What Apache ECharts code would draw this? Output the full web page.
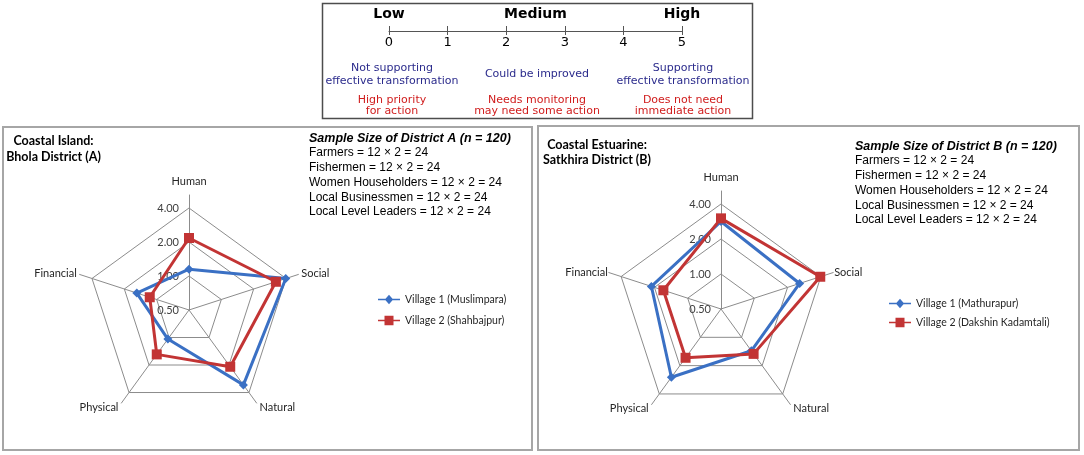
<!DOCTYPE html>
<html>
<head>
<meta charset="utf-8">
<script src="https://cdn.jsdelivr.net/npm/echarts@6/dist/echarts.min.js"></script>
<style>
html,body{margin:0;padding:0;background:#fff;}
#c{width:1084px;height:455px;}
</style>
</head>
<body>
<div id="c"></div>
<script>
// ---- data ----
const scaleTicks = [0, 1, 2, 3, 4, 5];
const scaleLevels = ['Low', 'Medium', 'High'];
const statusText = ['Not supporting\neffective transformation', 'Could be improved', 'Supporting\neffective transformation'];
const actionText = ['High priority\nfor action', 'Needs monitoring\nmay need some action', 'Does not need\nimmediate action'];

// indicators listed counter-clockwise starting at the top (ECharts order)
const capitals = ['Human', 'Financial', 'Physical', 'Natural', 'Social'];
const ringValues = [0.5, 1, 2, 4];

const titleA = 'Coastal Island:\nBhola District (A)';
const titleB = 'Coastal Estuarine:\nSatkhira District (B)';
const sampleHeadA = 'Sample Size of District A (n = 120)';
const sampleHeadB = 'Sample Size of District B (n = 120)';
const sampleGroups = ['Farmers', 'Fishermen', 'Women Householders', 'Local Businessmen', 'Local Level Leaders'];
const sampleCounts = ['12 \u00d7 2 = 24', '12 \u00d7 2 = 24', '12 \u00d7 2 = 24', '12 \u00d7 2 = 24', '12 \u00d7 2 = 24'];

const namesA = ['Village 1 (Muslimpara)', 'Village 2 (Shahbajpur)'];
const namesB = ['Village 1 (Mathurapur)', 'Village 2 (Dakshin Kadamtali)'];
//                 Human Financial Physical Natural Social
const villageA1 = [1.15, 1.53, 1.04, 3.30, 3.98];
const villageA2 = [2.17, 1.16, 1.53, 2.09, 3.22];
const villageB1 = [2.83, 2.13, 2.66, 1.39, 2.57];
const villageB2 = [3.01, 1.66, 1.65, 1.50, 3.95];

// ---- build ----
const BLUE = '#3a70c4';
const RED = '#c23434';
const GRID = '#8c8c8c';
const log2 = v => Math.log(v) / Math.LN2;
const lmin = log2(ringValues[0]), lmax = log2(ringValues[ringValues.length - 1]);
const nameFont = 'Lato, "Liberation Sans", sans-serif';
const iconDiamond = 'path://M0,4.3 L7.5,4.3 L11,0.3 L14.5,4.3 L22,4.3 L22,5.7 L14.5,5.7 L11,9.7 L7.5,5.7 L0,5.7 Z';
const iconSquare = 'path://M0,4.2 L6.5,4.2 L6.5,0.3 L15.5,0.3 L15.5,4.2 L22,4.2 L22,5.8 L15.5,5.8 L15.5,9.7 L6.5,9.7 L6.5,5.8 L0,5.8 Z';

function gridRadar(center, radius) {
  return {
    center: center, radius: radius, startAngle: 90, shape: 'polygon', splitNumber: ringValues.length - 1,
    indicator: capitals.map((n, i) => {
      const o = { name: n, min: lmin, max: lmax };
      if (i === 0) o.axisLabel = {
        show: true, margin: 10, fontSize: 11, color: '#404040', fontFamily: nameFont,
        formatter: v => Math.pow(2, v).toFixed(2)
      };
      return o;
    }),
    axisName: { show: false },
    axisLine: { show: false },
    axisTick: { show: false },
    axisLabel: { show: false },
    splitArea: { show: false },
    splitLine: { lineStyle: { color: GRID, width: 1 } }
  };
}
function axesRadar(center, radius, gaps) {
  return {
    center: center, radius: radius, startAngle: 90, shape: 'polygon', splitNumber: 1,
    indicator: capitals.map((n, i) => ({ name: n, min: 0, max: 1, nameGap: gaps[i] })),
    nameGap: 5,
    axisName: { color: '#262626', fontSize: 11, fontFamily: nameFont },
    axisLine: { lineStyle: { color: GRID, width: 1 } },
    axisTick: { show: false },
    axisLabel: { show: false },
    splitArea: { show: false },
    splitLine: { show: false }
  };
}
function item(name, vals, color, symbol, size) {
  return {
    name: name, value: vals.map(log2), symbol: symbol, symbolSize: size,
    lineStyle: { color: color, width: 3 }, itemStyle: { color: color }
  };
}
function sampleText(head, x, y) {
  const out = [{
    type: 'text', left: x, top: y,
    style: { text: head, font: 'italic bold 12.5px "Liberation Sans", Arial, sans-serif', fill: '#000' }
  }];
  sampleGroups.forEach((g, i) => {
    out.push({
      type: 'text', left: x, top: y + 14.8 * (i + 1),
      style: { text: g + ' = ' + sampleCounts[i], font: '12px "Liberation Sans", Arial, sans-serif', fill: '#000' }
    });
  });
  return out;
}

const levelX = [392, 537, 683];
const graphic = [
  { type: 'rect', shape: { x: 322.5, y: 3.5, width: 430, height: 115 }, style: { fill: 'none', stroke: '#4d4d4d', lineWidth: 1.5 }, z: 0 },
  { type: 'rect', shape: { x: 3, y: 127, width: 529, height: 323 }, style: { fill: 'none', stroke: '#a6a6a6', lineWidth: 2 }, z: 0 },
  { type: 'rect', shape: { x: 538, y: 126, width: 541, height: 324 }, style: { fill: 'none', stroke: '#a6a6a6', lineWidth: 2 }, z: 0 },
  { type: 'text', x: 53.5, y: 133, style: { text: titleA, font: 'bold 12.5px Lato, sans-serif', fill: '#000', textAlign: 'center', lineHeight: 16 } },
  { type: 'text', x: 597, y: 137, style: { text: titleB, font: 'bold 12.5px Lato, sans-serif', fill: '#000', textAlign: 'center', lineHeight: 15 } }
];
statusText.forEach((t, i) => {
  graphic.push({ type: 'text', x: levelX[i], y: (t.indexOf('\n') >= 0 ? 62 : 67.5),
    style: { text: t, font: '11px "DejaVu Sans", sans-serif', fill: '#2b2b8c', textAlign: 'center', lineHeight: 12.5 } });
});
actionText.forEach((t, i) => {
  graphic.push({ type: 'text', x: levelX[i], y: 94,
    style: { text: t, font: '11px "DejaVu Sans", sans-serif', fill: '#d01c1c', textAlign: 'center', lineHeight: 11.5 } });
});
sampleText(sampleHeadA, 309, 132).forEach(g => graphic.push(g));
sampleText(sampleHeadB, 855, 140).forEach(g => graphic.push(g));

const option = {
  backgroundColor: '#fff',
  animation: false,
  grid: { left: 389, width: 293, top: 26, height: 9 },
  xAxis: [
    {
      type: 'value', min: scaleTicks[0], max: scaleTicks[scaleTicks.length - 1], interval: 1,
      position: 'bottom', offset: -5,
      axisLine: { lineStyle: { color: '#555', width: 1 } },
      axisTick: { show: false },
      splitLine: { show: true, lineStyle: { color: '#555', width: 1 } },
      axisLabel: { margin: 6, fontSize: 13, color: '#000', fontFamily: '"DejaVu Sans", sans-serif' }
    },
    {
      type: 'value', min: scaleTicks[0], max: scaleTicks[scaleTicks.length - 1], interval: 2.5,
      position: 'top',
      axisLine: { show: false }, axisTick: { show: false }, splitLine: { show: false },
      axisLabel: {
        margin: 5, fontSize: 14, fontWeight: 'bold', color: '#000', fontFamily: '"DejaVu Sans", sans-serif',
        formatter: v => scaleLevels[Math.round(v / 2.5)]
      }
    }
  ],
  yAxis: { type: 'value', show: false, min: 0, max: 1 },
  radar: [
    gridRadar([189, 310], 102),
    axesRadar([189, 310], 115, [8, 3, 5, 5, 3]),
    gridRadar([721, 309], 105),
    axesRadar([721, 309], 118, [8, 1, 5, 5, 1])
  ],
  legend: [
    {
      orient: 'vertical', left: 378, top: 294, padding: 0, itemWidth: 22, itemHeight: 10, itemGap: 10,
      textStyle: { fontSize: 10.5, color: '#262626', fontFamily: nameFont },
      data: [{ name: namesA[0], icon: iconDiamond }, { name: namesA[1], icon: iconSquare }]
    },
    {
      orient: 'vertical', left: 889, top: 298, padding: 0, itemWidth: 22, itemHeight: 10, itemGap: 8,
      textStyle: { fontSize: 10.5, color: '#262626', fontFamily: nameFont },
      data: [{ name: namesB[0], icon: iconDiamond }, { name: namesB[1], icon: iconSquare }]
    }
  ],
  series: [
    {
      type: 'radar', radarIndex: 0, z: 5,
      data: [item(namesA[0], villageA1, BLUE, 'diamond', 9), item(namesA[1], villageA2, RED, 'rect', 10)]
    },
    {
      type: 'radar', radarIndex: 2, z: 5,
      data: [item(namesB[0], villageB1, BLUE, 'diamond', 9), item(namesB[1], villageB2, RED, 'rect', 10)]
    }
  ],
  graphic: graphic
};
const chart = echarts.init(document.getElementById('c'), null, { renderer: 'canvas' });
chart.setOption(option);
</script>
</body>
</html>
